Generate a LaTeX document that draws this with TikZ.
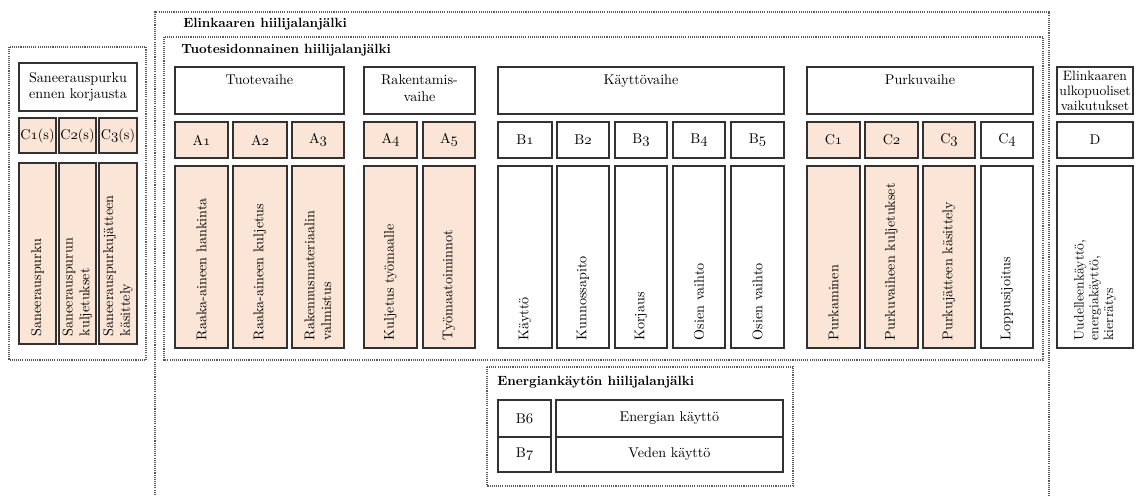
\documentclass[tikz,border=0pt]{standalone}
\usepackage{fontspec}
\definecolor{peach}{RGB}{251,229,214}
\definecolor{edge}{RGB}{50,50,50}
\definecolor{dotc}{RGB}{90,90,90}
\newcommand\osn[1]{{\usefont{OML}{cmm}{m}{it}#1}}
\newcommand\bx[7][]{\node[#1, minimum width={(#5-#3)*0.75pt}, minimum height={(#6-#4)*0.75pt}] (#2) at ({(#3+#5)/2},{(#4+#6)/2}) {#7};}
\begin{document}
\begin{tikzpicture}[x=0.75pt,y=-0.75pt,
  font=\fontsize{10.6}{12.6}\selectfont,
  bx/.style={draw=edge, line width=0.8pt, inner sep=0pt, align=center},
  pe/.style={bx, fill=peach},
  rt/.style={rotate=90, anchor=west, align=left, inner sep=0pt},
  hd/.style={anchor=north, align=center, inner sep=0pt},
  dotbox/.style={draw=dotc, line width=0.8pt, dash pattern=on 0.8pt off 0.8pt},
  ttl/.style={font=\fontsize{10}{12}\selectfont\bfseries, anchor=west, inner sep=0pt}]
\useasboundingbox (0,0) rectangle (1136,496);
% dotted frames
\draw[dotbox] (9,47) rectangle (146,360);
\draw[dotbox, line width=1pt] (155,497) -- (155,12) -- (1049,12) -- (1049,497);
\draw[dotbox] (164,37) rectangle (1043,360);
\draw[dotbox] (487,367) rectangle (793,486);
% titles
\node[ttl] (tE) at (183,24) {Elinkaaren hiilijalanjälki};
\node[ttl] (tT) at (181,50) {Tuotesidonnainen hiilijalanjälki};
\node[ttl] (tB) at (497,382) {Energiankäytön hiilijalanjälki};
% left block
\bx[bx]{hS}{19}{63}{137}{111}{}
\node[align=center, inner sep=0pt, font=\fontsize{10.6}{12.6}\selectfont] (hSt) at (hS.center) {Saneerauspurku\\ennen korjausta};
\bx[pe]{cS1}{19}{118}{56}{153}{C\osn{1}(s)}
\bx[pe]{cS2}{59}{118}{96}{153}{C\osn{2}(s)}
\bx[pe]{cS3}{99}{118}{137}{153}{C\osn{3}(s)}
\bx[pe]{lS1}{19}{163}{56}{344}{}
\bx[pe]{lS2}{59}{163}{96}{344}{}
\bx[pe]{lS3}{99}{163}{137}{344}{}
\node[rt] (xS1) at ([yshift=6pt]lS1.south) {Saneerauspurku};
\node[rt] (xS2) at ([yshift=6pt]lS2.south) {Saneerauspurun\\kuljetukset};
\node[rt] (xS3) at ([yshift=6pt]lS3.south) {Saneerauspurkujätteen\\käsittely};
% headers
\bx[bx]{hA}{175}{67}{344}{114}{}
\bx[bx]{hR}{364}{67}{475}{114}{}
\bx[bx]{hK}{498}{67}{784}{114}{}
\bx[bx]{hP}{807}{67}{1033}{114}{}
\bx[bx]{hD}{1057}{67}{1133}{114}{}
\node[hd] (hAt) at ([yshift=-6pt]hA.north) {Tuotevaihe};
\node[hd] (hRt) at ([yshift=-6pt]hR.north) {Rakentamis-\\vaihe};
\node[hd] (hKt) at ([yshift=-6pt]hK.north) {Käyttövaihe};
\node[hd] (hPt) at ([yshift=-6pt]hP.north) {Purkuvaihe};
\node[align=center, inner sep=0pt, font=\fontsize{10.2}{11.2}\selectfont] (hDt) at (hD.center) {Elinkaaren\\ulkopuoliset\\vaikutukset};
% codes
\bx[pe]{cA1}{175}{122}{228}{158}{A\osn{1}}
\bx[pe]{cA2}{233}{122}{287}{158}{A\osn{2}}
\bx[pe]{cA3}{292}{122}{344}{158}{A\osn{3}}
\bx[pe]{cA4}{364}{122}{417}{158}{A\osn{4}}
\bx[pe]{cA5}{423}{122}{475}{158}{A\osn{5}}
\bx[bx]{cB1}{498}{122}{552}{158}{B\osn{1}}
\bx[bx]{cB2}{557}{122}{609}{158}{B\osn{2}}
\bx[bx]{cB3}{615}{122}{667}{158}{B\osn{3}}
\bx[bx]{cB4}{673}{122}{725}{158}{B\osn{4}}
\bx[bx]{cB5}{731}{122}{784}{158}{B\osn{5}}
\bx[pe]{cC1}{807}{122}{860}{158}{C\osn{1}}
\bx[pe]{cC2}{865}{122}{918}{158}{C\osn{2}}
\bx[pe]{cC3}{923}{122}{975}{158}{C\osn{3}}
\bx[bx]{cC4}{981}{122}{1033}{158}{C\osn{4}}
\bx[bx]{cD}{1057}{122}{1133}{158}{D}
% tall boxes
\bx[pe]{lA1}{175}{166}{228}{348}{}
\bx[pe]{lA2}{233}{166}{287}{348}{}
\bx[pe]{lA3}{292}{166}{344}{348}{}
\bx[pe]{lA4}{364}{166}{417}{348}{}
\bx[pe]{lA5}{423}{166}{475}{348}{}
\bx[bx]{lB1}{498}{166}{552}{348}{}
\bx[bx]{lB2}{557}{166}{609}{348}{}
\bx[bx]{lB3}{615}{166}{667}{348}{}
\bx[bx]{lB4}{673}{166}{725}{348}{}
\bx[bx]{lB5}{731}{166}{784}{348}{}
\bx[pe]{lC1}{807}{166}{860}{348}{}
\bx[pe]{lC2}{865}{166}{918}{348}{}
\bx[pe]{lC3}{923}{166}{975}{348}{}
\bx[bx]{lC4}{981}{166}{1033}{348}{}
\bx[bx]{lD}{1057}{166}{1133}{348}{}
\node[rt] (xA1) at ([yshift=6pt]lA1.south) {Raaka-aineen hankinta};
\node[rt] (xA2) at ([yshift=6pt]lA2.south) {Raaka-aineen kuljetus};
\node[rt] (xA3) at ([yshift=6pt]lA3.south) {Rakennusmateriaalin\\valmistus};
\node[rt] (xA4) at ([yshift=6pt]lA4.south) {Kuljetus työmaalle};
\node[rt] (xA5) at ([yshift=6pt]lA5.south) {Työmaatoiminnot};
\node[rt] (xB1) at ([yshift=6pt]lB1.south) {Käyttö};
\node[rt] (xB2) at ([yshift=6pt]lB2.south) {Kunnossapito};
\node[rt] (xB3) at ([yshift=6pt]lB3.south) {Korjaus};
\node[rt] (xB4) at ([yshift=6pt]lB4.south) {Osien vaihto};
\node[rt] (xB5) at ([yshift=6pt]lB5.south) {Osien vaihto};
\node[rt] (xC1) at ([yshift=6pt]lC1.south) {Purkaminen};
\node[rt] (xC2) at ([yshift=6pt]lC2.south) {Purkuvaiheen kuljetukset};
\node[rt] (xC3) at ([yshift=6pt]lC3.south) {Purkujätteen käsittely};
\node[rt] (xC4) at ([yshift=6pt]lC4.south) {Loppusijoitus};
\node[rt, font=\fontsize{10.2}{11}\selectfont] (xD) at ([yshift=6pt]lD.south) {Uudelleenkäyttö,\\energiakäyttö,\\kierrätys};
% energy table
\bx[bx]{cB6}{498}{400}{551}{437}{B\osn{6}}
\bx[bx]{cB7}{498}{437}{551}{472}{B\osn{7}}
\bx[bx]{eB6}{556}{400}{783}{437}{Energian käyttö}
\bx[bx]{eB7}{556}{437}{783}{472}{Veden käyttö}
\end{tikzpicture}
\end{document}
